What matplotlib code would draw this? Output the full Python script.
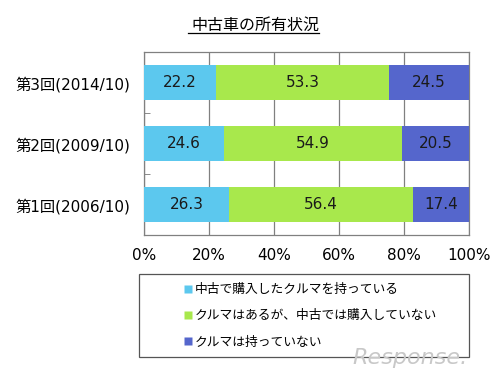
import matplotlib
matplotlib.use("Agg")
import matplotlib.pyplot as plt
from matplotlib.patches import Rectangle
from matplotlib.lines import Line2D

plt.rcParams['font.family'] = ['DejaVu Sans', 'Noto Sans CJK JP']

# data (bottom row first)
rounds = ['第1回(2006/10)', '第2回(2009/10)', '第3回(2014/10)']
used_car = [26.3, 24.6, 22.2]
car_not_used = [56.4, 54.9, 53.3]
no_car = [17.4, 20.5, 24.5]
series_names = ['中古で購入したクルマを持っている',
                'クルマはあるが、中古では購入していない',
                'クルマは持っていない']
colors = ['#5CC8EE', '#A8E84C', '#5566CC']
xticks = [0, 20, 40, 60, 80, 100]

fig = plt.figure(figsize=(5, 3.75), dpi=100)
ax = fig.add_axes([0.288, 0.373, 0.650, 0.488])

ypos = list(range(len(rounds)))
left = [0.0] * len(rounds)
handles = []
for vals, col, name in zip([used_car, car_not_used, no_car], colors, series_names):
    bars = ax.barh(ypos, vals, left=left, height=0.57, color=col,
                   edgecolor='none', zorder=3, label=name)
    for b, v, l in zip(bars, vals, left):
        ax.text(l + v / 2, b.get_y() + b.get_height() / 2, f'{v:.1f}',
                ha='center', va='center', fontsize=11, color='#1a1a1a',
                zorder=4)
    left = [a + b for a, b in zip(left, vals)]
    handles.append(Line2D([], [], marker='s', linestyle='none',
                          markerfacecolor=col, markeredgecolor='none',
                          markersize=6, label=name))

ax.set_xlim(0, 100)
ax.set_ylim(-0.5, 2.5)
ax.set_xticks(xticks)
ax.set_xticklabels([f'{t}%' for t in xticks], fontsize=11)
ax.set_yticks(ypos)
ax.set_yticklabels(rounds, fontsize=11)
ax.set_yticks([0.5, 1.5], minor=True)
ax.tick_params(axis='y', which='major', length=0, pad=10)
ax.tick_params(axis='y', which='minor', length=4, direction='in', color='#777777')
ax.tick_params(axis='x', length=0, pad=9)
ax.grid(axis='x', color='#808080', linewidth=0.9, zorder=0)
for s in ax.spines.values():
    s.set_color('#808080')
    s.set_linewidth(0.9)

# title with underline
fig.text(0.51, 0.932, '中古車の所有状況', ha='center', va='center', fontsize=11.5)
fig.add_artist(Line2D([0.376, 0.637], [0.912, 0.912], transform=fig.transFigure,
                      color='black', linewidth=0.9))

# legend box
fig.add_artist(Rectangle((0.278, 1 - 357 / 375), 0.660, 83 / 375,
                         transform=fig.transFigure, fill=False,
                         edgecolor='#555555', linewidth=0.9))
fig.legend(handles=handles, loc='upper left', bbox_to_anchor=(0.358, 0.259),
           frameon=False, fontsize=9.2, handlelength=0.6, handletextpad=0.25,
           labelspacing=1.05, borderaxespad=0)

# watermark
fig.text(0.935, 0.045, 'Response.', ha='right', va='center', fontsize=16,
         color='#c8c8c8', style='italic')

fig.savefig('out.png', dpi=100, facecolor='white')
